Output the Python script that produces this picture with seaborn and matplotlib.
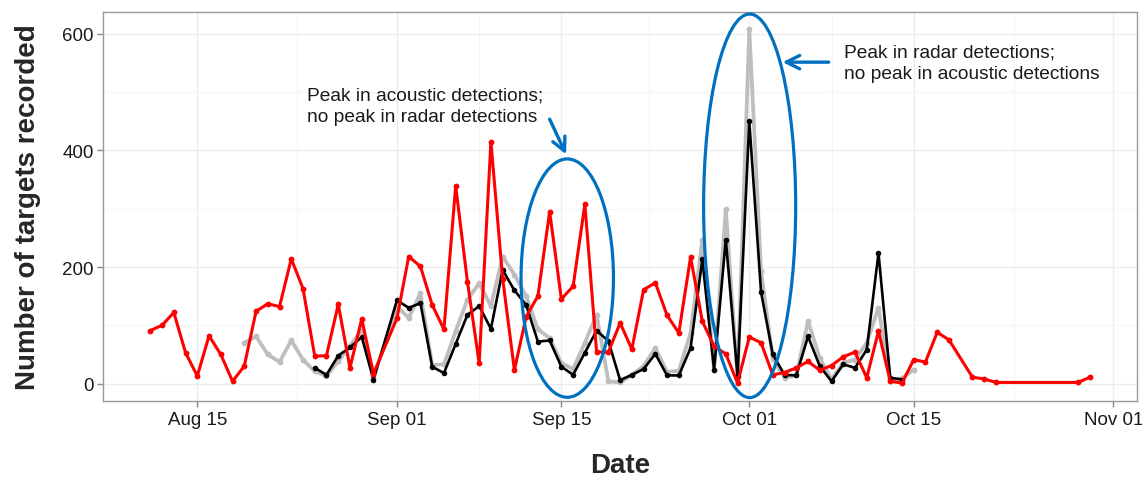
import numpy as np
import pandas as pd
import matplotlib
matplotlib.use('Agg')
import matplotlib.pyplot as plt
import matplotlib.dates as mdates
from matplotlib.patches import Ellipse
import seaborn as sns

# acoustic detections (red)
acoustic_dates = ['2015-08-11', '2015-08-12', '2015-08-13', '2015-08-14', '2015-08-15', '2015-08-16',
                  '2015-08-17', '2015-08-18', '2015-08-19', '2015-08-20', '2015-08-21', '2015-08-22',
                  '2015-08-23', '2015-08-24', '2015-08-25', '2015-08-26', '2015-08-27', '2015-08-28',
                  '2015-08-29', '2015-08-30', '2015-09-01', '2015-09-02', '2015-09-03', '2015-09-04',
                  '2015-09-05', '2015-09-06', '2015-09-07', '2015-09-08', '2015-09-09', '2015-09-10',
                  '2015-09-11', '2015-09-12', '2015-09-13', '2015-09-14', '2015-09-15', '2015-09-16',
                  '2015-09-17', '2015-09-18', '2015-09-19', '2015-09-20', '2015-09-21', '2015-09-22',
                  '2015-09-23', '2015-09-24', '2015-09-25', '2015-09-26', '2015-09-27', '2015-09-28',
                  '2015-09-29', '2015-09-30', '2015-10-01', '2015-10-02', '2015-10-03', '2015-10-04',
                  '2015-10-05', '2015-10-06', '2015-10-07', '2015-10-08', '2015-10-09', '2015-10-10',
                  '2015-10-11', '2015-10-12', '2015-10-13', '2015-10-14', '2015-10-15', '2015-10-16',
                  '2015-10-17', '2015-10-18', '2015-10-20', '2015-10-21', '2015-10-22', '2015-10-29',
                  '2015-10-30']
acoustic_counts = [91, 100, 122, 53, 13, 82,
                   50, 4, 30, 124, 137, 132,
                   214, 163, 47, 48, 136, 27,
                   111, 17, 112, 218, 201, 135,
                   93, 339, 175, 35, 415, 180,
                   23, 115, 150, 295, 145, 167,
                   308, 54, 54, 104, 59, 161,
                   173, 117, 87, 217, 107, 64,
                   51, 1, 80, 70, 15, 19,
                   27, 38, 23, 31, 46, 54,
                   10, 90, 4, 1, 41, 37,
                   88, 75, 11, 8, 2, 2,
                   11]

# radar detections, first count (grey)
radar1_dates = ['2015-08-19', '2015-08-20', '2015-08-21', '2015-08-22', '2015-08-23', '2015-08-24',
                '2015-08-25', '2015-08-26', '2015-08-27', '2015-08-28', '2015-08-29', '2015-08-30',
                '2015-09-01', '2015-09-02', '2015-09-03', '2015-09-04', '2015-09-05', '2015-09-06',
                '2015-09-07', '2015-09-08', '2015-09-09', '2015-09-10', '2015-09-11', '2015-09-12',
                '2015-09-13', '2015-09-14', '2015-09-15', '2015-09-16', '2015-09-17', '2015-09-18',
                '2015-09-19', '2015-09-20', '2015-09-21', '2015-09-22', '2015-09-23', '2015-09-24',
                '2015-09-25', '2015-09-26', '2015-09-27', '2015-09-28', '2015-09-29', '2015-09-30',
                '2015-10-01', '2015-10-02', '2015-10-03', '2015-10-04', '2015-10-05', '2015-10-06',
                '2015-10-07', '2015-10-08', '2015-10-09', '2015-10-10', '2015-10-11', '2015-10-12',
                '2015-10-13', '2015-10-14', '2015-10-15']
radar1_counts = [70, 81, 50, 37, 74, 41,
                 21, 13, 38, 65, 92, 9,
                 132, 113, 155, 32, 33, 90,
                 144, 172, 133, 218, 187, 150,
                 93, 78, 35, 25, 70, 118,
                 4, 2, 15, 30, 61, 20,
                 22, 87, 247, 24, 299, 9,
                 608, 193, 43, 10, 14, 107,
                 44, 7, 36, 41, 70, 130,
                 7, 9, 24]

# radar detections, second count (black)
radar2_dates = ['2015-08-25', '2015-08-26', '2015-08-27', '2015-08-28', '2015-08-29', '2015-08-30',
                '2015-09-01', '2015-09-02', '2015-09-03', '2015-09-04', '2015-09-05', '2015-09-06',
                '2015-09-07', '2015-09-08', '2015-09-09', '2015-09-10', '2015-09-11', '2015-09-12',
                '2015-09-13', '2015-09-14', '2015-09-15', '2015-09-16', '2015-09-17', '2015-09-18',
                '2015-09-19', '2015-09-20', '2015-09-21', '2015-09-22', '2015-09-23', '2015-09-24',
                '2015-09-25', '2015-09-26', '2015-09-27', '2015-09-28', '2015-09-29', '2015-09-30',
                '2015-10-01', '2015-10-02', '2015-10-03', '2015-10-04', '2015-10-05', '2015-10-06',
                '2015-10-07', '2015-10-08', '2015-10-09', '2015-10-10', '2015-10-11', '2015-10-12',
                '2015-10-13', '2015-10-14']
radar2_counts = [27, 15, 48, 62, 80, 7,
                 143, 130, 138, 29, 18, 68,
                 118, 133, 94, 195, 160, 135,
                 72, 74, 29, 15, 53, 91,
                 73, 6, 15, 25, 51, 14,
                 14, 61, 213, 24, 247, 13,
                 450, 157, 50, 15, 14, 81,
                 30, 4, 33, 27, 58, 224,
                 10, 7]

x_ticks = ['2015-08-15', '2015-09-01', '2015-09-15', '2015-10-01', '2015-10-15', '2015-11-01']
y_ticks = [0, 200, 400, 600]

acoustic = pd.DataFrame({'date': pd.to_datetime(acoustic_dates), 'n': acoustic_counts})
radar1 = pd.DataFrame({'date': pd.to_datetime(radar1_dates), 'n': radar1_counts})
radar2 = pd.DataFrame({'date': pd.to_datetime(radar2_dates), 'n': radar2_counts})

sns.set_theme(style='whitegrid')
plt.rcParams['font.family'] = ['Liberation Sans', 'DejaVu Sans']

fig = plt.figure(figsize=(11.42, 4.81), dpi=100)
ax = fig.add_axes([0.0905, 0.1636, 0.905, 0.8104])

sns.lineplot(data=radar1, x='date', y='n', color='#BEBEBE', lw=2.7, marker='o',
             markersize=4.2, markeredgewidth=0, ax=ax, zorder=3)
sns.lineplot(data=radar2, x='date', y='n', color='black', lw=1.9, marker='o',
             markersize=4, markeredgewidth=0, ax=ax, zorder=4)
sns.lineplot(data=acoustic, x='date', y='n', color='#FF0000', lw=2.2, marker='o',
             markersize=4.2, markeredgewidth=0, ax=ax, zorder=5)

d0 = mdates.date2num(pd.Timestamp('2015-08-15'))
ax.set_xlim(d0 - 8, d0 + 80)
ax.set_ylim(-30.4, 638.4)

ax.set_xticks(pd.to_datetime(x_ticks))
ax.xaxis.set_major_formatter(mdates.DateFormatter('%b %d'))
ax.set_xticks([d0 + 8.5, d0 + 24, d0 + 38.5, d0 + 54, d0 + 69.5], minor=True)
ax.set_yticks(y_ticks)
ax.set_yticks([100, 300, 500], minor=True)

ax.grid(which='major', color='#EDEDED', lw=1.0)
ax.grid(which='minor', color='#F5F5F5', lw=0.8)
for s in ax.spines.values():
    s.set_color('#9A9A9A')
    s.set_linewidth(1.0)
ax.tick_params(axis='both', which='major', length=4, width=1, color='#8A8A8A',
               labelsize=13.5, labelcolor='#1A1A1A', pad=3)
ax.tick_params(axis='both', which='minor', length=0)
ax.tick_params(bottom=True, left=True)

ax.set_xlabel('Date', fontsize=20, fontweight='bold', labelpad=17)
ax.set_ylabel('Number of targets recorded', fontsize=20, fontweight='bold', labelpad=15)

blue = '#0070C0'
ax.add_patch(Ellipse((d0 + 31.5, 181), 7.87, 409, fill=False, ec=blue, lw=2.3, zorder=6))
ax.add_patch(Ellipse((d0 + 47.03, 305), 7.84, 658, fill=False, ec=blue, lw=2.3, zorder=6))

ax.annotate('', xy=(d0 + 31.5, 389), xytext=(d0 + 29.9, 458),
            arrowprops=dict(arrowstyle='->,head_length=0.8,head_width=0.4', color=blue, lw=2.4),
            zorder=6)
ax.annotate('', xy=(d0 + 49.6, 551.5), xytext=(d0 + 54.0, 551.5),
            arrowprops=dict(arrowstyle='->,head_length=0.8,head_width=0.4', color=blue, lw=2.4),
            zorder=6)

ax.text(d0 + 9.38, 477, 'Peak in acoustic detections;\nno peak in radar detections',
        fontsize=13.8, ha='left', va='center', color='#1A1A1A', linespacing=1.35, zorder=7)
ax.text(d0 + 55.1, 551, 'Peak in radar detections;\nno peak in acoustic detections',
        fontsize=13.8, ha='left', va='center', color='#1A1A1A', linespacing=1.35, zorder=7)

fig.savefig('out.png', dpi=100)
